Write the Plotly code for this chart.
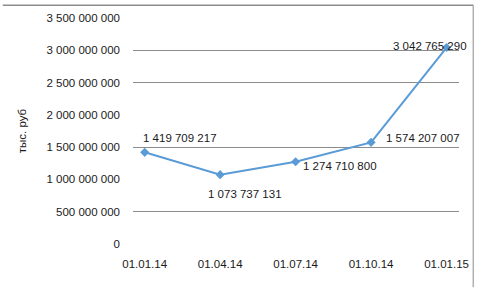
import plotly.graph_objects as go

dates = ["01.01.14", "01.04.14", "01.07.14", "01.10.14", "01.01.15"]
values = [1419709217, 1073737131, 1274710800, 1574207007, 3042765290]
y_ticks = [0, 500000000, 1000000000, 1500000000, 2000000000, 2500000000, 3000000000, 3500000000]
grid_visible = [500000000, 1500000000, 2500000000, 3000000000]
label_shift = [(35, 14), (25, -19), (44, -4), (52, 4), (-17, 2)]


def fmt(v):
    return f"{v:,}".replace(",", " ")


FONT = "Liberation Sans"
TXT = "#1a1a1a"
fig = go.Figure()
# invisible trace on overlay axis carrying the partial gridlines
fig.add_trace(go.Scatter(x=[0], y=[0], yaxis="y2", mode="markers",
                         marker=dict(opacity=0), showlegend=False, hoverinfo="skip"))
fig.add_trace(go.Scatter(
    x=list(range(len(dates))), y=values, mode="lines+markers",
    line=dict(color="#5B9BD5", width=2),
    marker=dict(symbol="diamond", size=7, color="#5B9BD5"),
    showlegend=False, hoverinfo="skip",
))

for i, (v, (dx, dy)) in enumerate(zip(values, label_shift)):
    fig.add_annotation(x=i, y=v, text=fmt(v), showarrow=False,
                       xshift=dx, yshift=dy,
                       font=dict(family=FONT, size=11.5, color=TXT))

fig.update_layout(
    width=481, height=288,
    margin=dict(l=133, r=15, t=14, b=44),
    paper_bgcolor="white", plot_bgcolor="white",
    font=dict(family=FONT, size=11.5, color=TXT),
    xaxis=dict(range=[-0.155, 4.165], tickvals=list(range(len(dates))), ticktext=dates,
               showgrid=False, zeroline=False, showline=False, ticks="",
               ticklabelstandoff=11, tickfont=dict(size=11.5, color=TXT)),
    yaxis=dict(range=[0, 3500000000], tickvals=y_ticks, ticktext=[fmt(t) for t in y_ticks],
               showgrid=False, zeroline=False, showline=False, ticks="",
               ticklabelstandoff=12, tickfont=dict(size=11.5, color=TXT),
               title=dict(text="тыс. руб", standoff=17, font=dict(size=11.5, color=TXT))),
    yaxis2=dict(range=[0, 3500000000], overlaying="y", tickvals=grid_visible,
                showticklabels=False, showgrid=True, gridcolor="#8c8c8c", gridwidth=1,
                zeroline=False, showline=False, ticks=""),
)

# outer chart frame: top and right edges visible
top = 1 + (14 - 1) / 230
right = (480.5 - 133) / 333
fig.add_shape(type="line", xref="paper", yref="paper", x0=-133 / 333, x1=right, y0=top, y1=top,
              line=dict(color="#8c8c8c", width=1.5), layer="above")
fig.add_shape(type="line", xref="paper", yref="paper", x0=right, x1=right, y0=-44 / 230, y1=top,
              line=dict(color="#8c8c8c", width=1), layer="above")

fig.write_html("out.html")
